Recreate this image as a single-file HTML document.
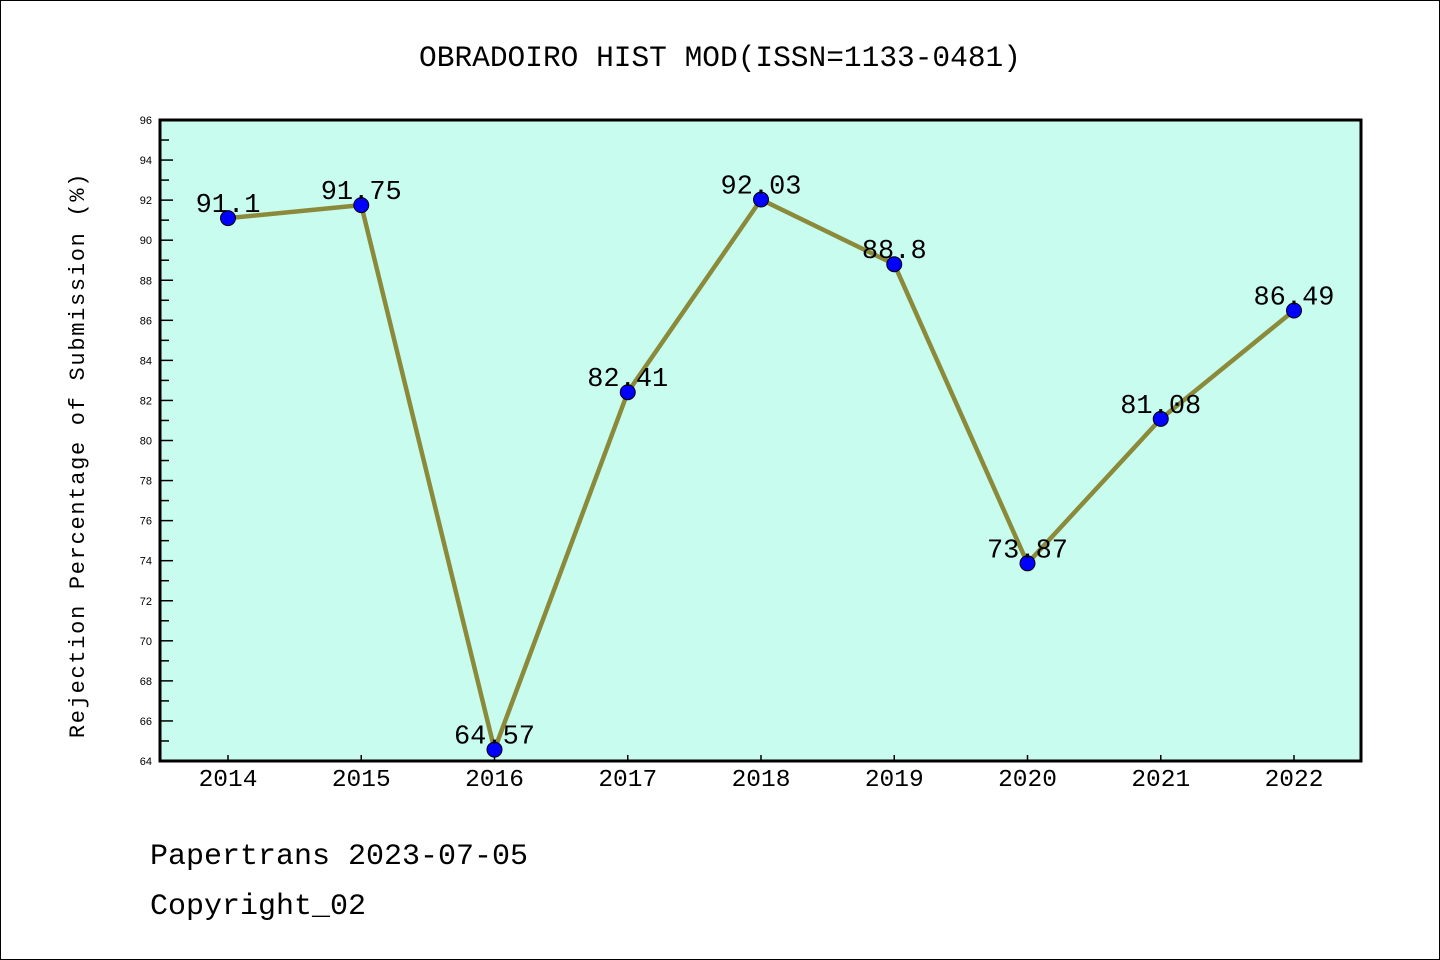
<!DOCTYPE html>
<html><head><meta charset="utf-8"><style>
html,body{margin:0;padding:0;background:#fff}
svg{display:block}
text{font-family:"Liberation Mono","DejaVu Sans Mono",monospace}
</style></head><body>
<svg id="chart" width="1440" height="960" viewBox="0 0 1440 960" xmlns="http://www.w3.org/2000/svg">
<rect x="0.5" y="0.5" width="1439" height="959" fill="#fff" stroke="#000" stroke-width="1"/>
<text x="720" y="66" font-size="29.5" text-anchor="middle">OBRADOIRO HIST MOD(ISSN=1133-0481)</text>
<rect x="160" y="120" width="1201" height="641" fill="#c8fcee"/>
<g id="yaxis"></g>
<g id="xaxis"></g>
<g id="series"></g>
<rect x="160" y="120" width="1201" height="641" fill="none" stroke="#000" stroke-width="3"/>
<text transform="translate(84,455) rotate(-90)" font-size="22" text-anchor="middle" letter-spacing="1.7">Rejection Percentage of Submission (%)</text>
<text x="150" y="864" font-size="30">Papertrans 2023-07-05</text>
<text x="150" y="914" font-size="30">Copyright_02</text>
</svg>
<script>
const categories = ["2014","2015","2016","2017","2018","2019","2020","2021","2022"];
const values = [91.1, 91.75, 64.57, 82.41, 92.03, 88.8, 73.87, 81.08, 86.49];
const valueLabels = ["91.1","91.75","64.57","82.41","92.03","88.8","73.87","81.08","86.49"];
const yTicks = [64,66,68,70,72,74,76,78,80,82,84,86,88,90,92,94,96];
const yMin = 64, yMax = 96;
const NS = "http://www.w3.org/2000/svg";
function yScale(v){ return 761 - (v - yMin) / (yMax - yMin) * 641; }
function xScale(i){ return 228 + i * (1294 - 228) / (categories.length - 1); }
function mk(tag, attrs, parent){ const e = document.createElementNS(NS, tag); for (const k in attrs) e.setAttribute(k, attrs[k]); parent.appendChild(e); return e; }
const ya = document.getElementById('yaxis');
yTicks.forEach(t => {
  const y = yScale(t);
  const l = mk('line', {x1:160, x2:173, y1:y, y2:y, stroke:'#000', 'stroke-width':1.5}, ya);
  
  
  const tx = mk('text', {x:152, y:y+4, 'font-size':11, 'text-anchor':'end', style:'font-family:"Liberation Sans",sans-serif'}, ya);
  tx.textContent = t;
  
  
  if (t < yMax) {
    const m = yScale(t + 1);
    const ml = mk('line', {x1:160, x2:169, y1:m, y2:m, stroke:'#000', 'stroke-width':1.5}, ya);
    
    
  }
});
const xa = document.getElementById('xaxis');
categories.forEach((c, i) => {
  const x = xScale(i);
  const l = mk('line', {x1:x, x2:x, y1:761, y2:755, stroke:'#000', 'stroke-width':1.5}, xa);
  
  
  const tx = mk('text', {x:x, y:786, 'font-size':24.5, 'text-anchor':'middle'}, xa);
  tx.textContent = c;
  
  
});
const sg = document.getElementById('series');
const pts = values.map((v, i) => xScale(i) + ',' + yScale(v)).join(' ');
const pl = mk('polyline', {points:pts, fill:'none', stroke:'#8b8a3a', 'stroke-width':4.5, 'stroke-linejoin':'round'}, sg);


values.forEach((v, i) => {
  const c = mk('circle', {cx:xScale(i), cy:yScale(v), r:7.5, fill:'#0000ff', stroke:'#000', 'stroke-width':1}, sg);
  
  
  const t = mk('text', {x:xScale(i), y:yScale(v) - 6, 'font-size':27, 'text-anchor':'middle'}, sg);
  t.textContent = valueLabels[i];
  
  
});
</script>
</body></html>
